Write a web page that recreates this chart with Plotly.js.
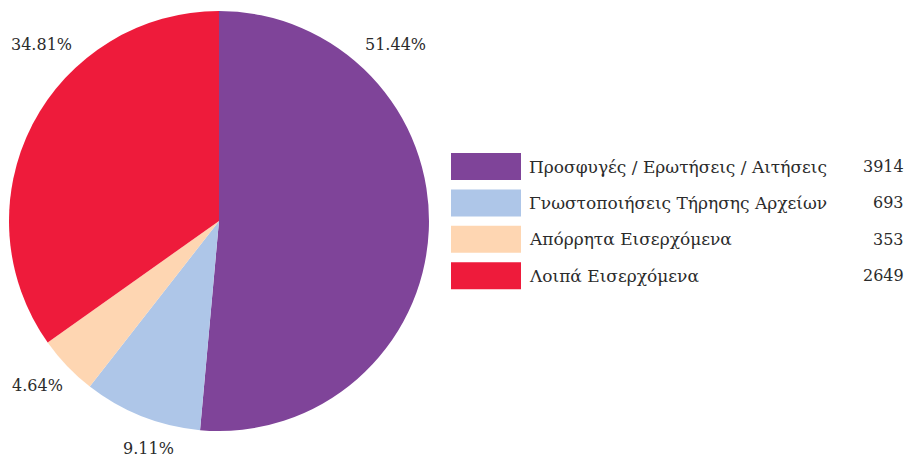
<!DOCTYPE html>
<html>
<head>
<meta charset="utf-8">
<script src="https://cdn.plot.ly/plotly-3.0.1.min.js"></script>
<style>html,body{margin:0;padding:0;background:#fff;}#chart{width:908px;height:459px;}</style>
</head>
<body>
<div id="chart"></div>
<script>
const categories = ["Προσφυγές / Ερωτήσεις / Αιτήσεις", "Γνωστοποιήσεις Τήρησης Αρχείων", "Απόρρητα Εισερχόμενα", "Λοιπά Εισερχόμενα"];
const values = [3914, 693, 353, 2649];
const colors = ["#7f4499", "#aec6e8", "#fed6b2", "#ee1b3b"];

const W = 908, H = 459;
const px = x => x / W;
const py = y => 1 - y / H;
const total = values.reduce((a, b) => a + b, 0);
const pct = values.map(v => (100 * v / total).toFixed(2) + "%");

const FONT = "DejaVu Serif, serif";
const TXT = "#2b2b2b";

// percentage label positions (pixels) for each slice
const pctPos = [[395, 45], [148, 448], [37, 385], [41, 45]];

const annotations = [];
const shapes = [];
pctPos.forEach((p, i) => {
  annotations.push({x: px(p[0]), y: py(p[1]), xref: "paper", yref: "paper", text: pct[i], showarrow: false,
    xanchor: "center", yanchor: "middle", font: {family: FONT, size: 16, color: TXT}});
});
categories.forEach((c, i) => {
  const top = 153 + i * 36.4;
  shapes.push({type: "rect", xref: "paper", yref: "paper", x0: px(451), x1: px(521), y0: py(top), y1: py(top + 27),
    fillcolor: colors[i], line: {width: 0}});
  annotations.push({x: px(527), y: py(top + 13.5), xref: "paper", yref: "paper", text: c, showarrow: false,
    xanchor: "left", yanchor: "middle", font: {family: FONT, size: 17, color: TXT}});
  annotations.push({x: px(906), y: py(top + 13.5), xref: "paper", yref: "paper", text: String(values[i]), showarrow: false,
    xanchor: "right", yanchor: "middle", font: {family: FONT, size: 16, color: TXT}});
});

const data = [{
  type: "pie",
  labels: categories,
  values: values,
  sort: false,
  direction: "clockwise",
  rotation: 0,
  marker: {colors: colors, line: {width: 0}},
  textinfo: "none",
  hoverinfo: "label+value+percent",
  domain: {x: [px(9), px(429)], y: [py(431), py(11)]},
  showlegend: false
}];

const layout = {
  width: W, height: H,
  margin: {l: 0, r: 0, t: 0, b: 0},
  paper_bgcolor: "#fff",
  showlegend: false,
  annotations: annotations,
  shapes: shapes
};

Plotly.newPlot("chart", data, layout, {displayModeBar: false, staticPlot: true});
</script>
</body>
</html>
